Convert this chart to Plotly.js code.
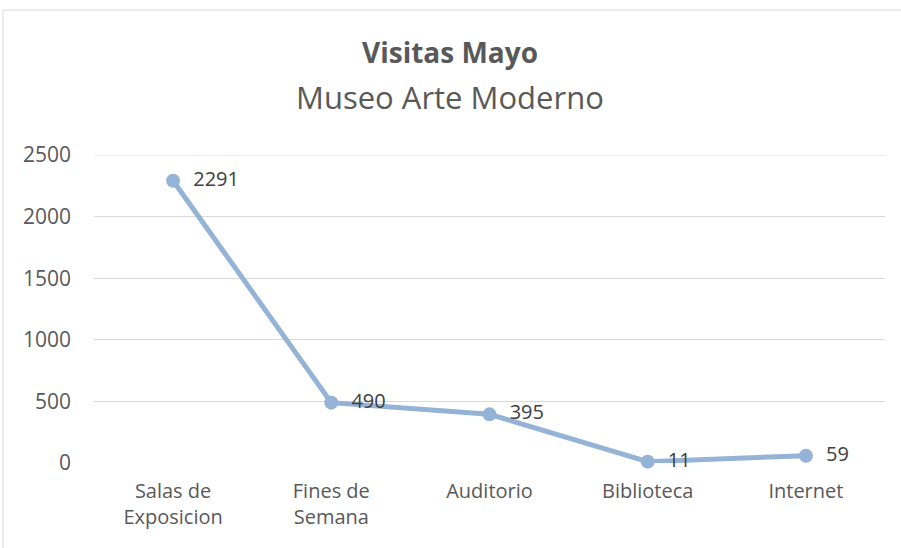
<!DOCTYPE html>
<html><head><meta charset="utf-8">
<script src="https://cdn.plot.ly/plotly-3.0.1.min.js"></script>
<style>html,body{margin:0;padding:0;background:#fff}#c{width:901px;height:548px}</style>
</head><body><div id="c"></div>
<script>
const categories = ["Salas de<br>Exposicion", "Fines de<br>Semana", "Auditorio", "Biblioteca", "Internet"];
const visitas = [2291, 490, 395, 11, 59];
const yTicks = [0, 500, 1000, 1500, 2000, 2500];
const titleText = "Visitas Mayo";
const subtitleText = "Museo Arte Moderno";

const FONT = "Open Sans, Liberation Sans, sans-serif";
const trace = {
  x: categories, y: visitas, type: 'scatter', mode: 'lines+markers+text',
  line: {color: '#95B3D7', width: 5},
  marker: {color: '#95B3D7', size: 14},
  text: visitas.map(v => '  ' + v), textposition: 'middle right',
  textfont: {family: FONT, size: 20, color: '#404040'},
  cliponaxis: false, hoverinfo: 'none'
};
const layout = {
  width: 901, height: 548,
  margin: {l: 94, r: 16, t: 155, b: 85},
  paper_bgcolor: '#fff', plot_bgcolor: '#fff',
  showlegend: false,
  font: {family: FONT, color: '#595959', size: 20},
  xaxis: {type: 'category', range: [-0.5, 4.5], showgrid: false, zeroline: false, showline: false,
    tickfont: {family: FONT, size: 20, color: '#595959'}, ticks: '', ticklabelstandoff: 14, fixedrange: true},
  yaxis: {range: [0, 2500], tickvals: yTicks, ticktext: yTicks.map(String), showgrid: true, gridcolor: '#D9D9D9', gridwidth: 1,
    zeroline: false, showline: false, ticks: '', ticklabelstandoff: 22,
    tickfont: {family: FONT, size: 21, color: '#595959'}, fixedrange: true},
  annotations: [
    {text: '<b>' + titleText + '</b>', xref: 'paper', yref: 'paper', x: 0.45, xanchor: 'center', y: (463-52)/308, yanchor: 'middle',
     showarrow: false, font: {family: FONT, size: 28, color: '#595959'}},
    {text: subtitleText, xref: 'paper', yref: 'paper', x: 0.45, xanchor: 'center', y: (463-97)/308, yanchor: 'middle',
     showarrow: false, font: {family: FONT, size: 31, color: '#595959'}}
  ],
  shapes: [
    {type: 'rect', xref: 'paper', yref: 'paper', x0: (3-94)/791, x1: 1.2, y0: -0.6, y1: (463-10)/308,
     line: {color: '#D9D9D9', width: 1}, fillcolor: 'rgba(0,0,0,0)', layer: 'below'},
    {type: 'line', xref: 'paper', yref: 'y', x0: 0, x1: 1, y0: yTicks[yTicks.length-1], y1: yTicks[yTicks.length-1],
     line: {color: '#D9D9D9', width: 1}, layer: 'below'}
  ]
};
Plotly.newPlot('c', [trace], layout, {displayModeBar: false, staticPlot: true});
</script></body></html>
